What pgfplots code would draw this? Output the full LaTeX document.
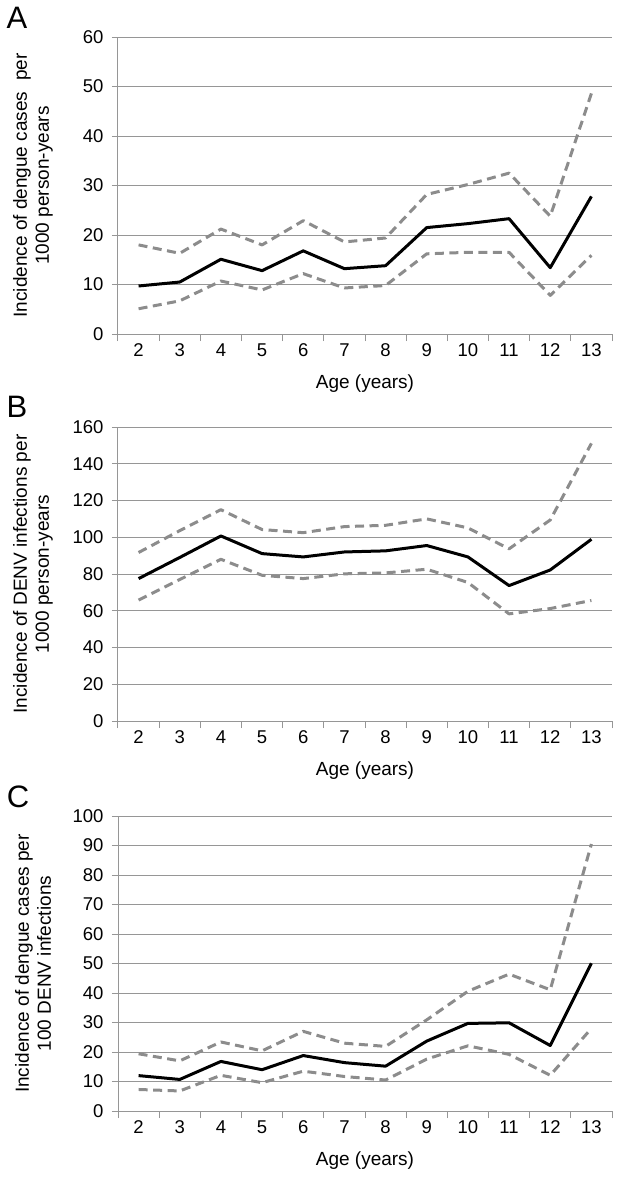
\documentclass[border=0pt]{standalone}
\usepackage{fontspec}
\setmainfont{Liberation Sans}
\usepackage{pgfplots}
\pgfplotsset{compat=1.18}
\usepackage{pgfplotstable}
\definecolor{gridgray}{RGB}{150,150,150}
\definecolor{dashgray}{RGB}{140,140,140}

\pgfplotstableread{
age est lo hi
2  9.7  5.1 18.0
3  10.5 6.7 16.3
4  15.1 10.7 21.2
5  12.8 8.9 18.0
6  16.8 12.2 22.9
7  13.2 9.3 18.6
8  13.8 9.8 19.4
9  21.5 16.2 28.2
10 22.3 16.5 30.2
11 23.3 16.5 32.5
12 13.4 7.8 23.8
13 27.8 15.9 48.6
}\tabA

\pgfplotstableread{
age est lo hi
2  77.5 65.8 91.7
3  89.0 77.0 103.6
4  100.7 88.0 115.0
5  91.1 79.3 104.2
6  89.3 77.5 102.5
7  92.0 80.1 105.8
8  92.6 80.6 106.5
9  95.5 82.6 110.0
10 89.3 75.4 105.1
11 73.7 58.3 93.7
12 82.2 61.2 109.4
13 98.9 65.6 151.1
}\tabB

\pgfplotstableread{
age est lo hi
2  12.0 7.3 19.4
3  10.7 6.8 17.0
4  16.8 12.1 23.4
5  14.0 9.6 20.4
6  18.8 13.5 27.0
7  16.4 11.7 23.0
8  15.2 10.5 21.9
9  23.7 17.6 30.9
10 29.7 22.1 40.6
11 29.9 19.2 46.4
12 22.2 12.1 41.1
13 50.1 28.0 90.5
}\tabC

\pgfplotsset{
  panel/.style={
    scale only axis,
    width=494pt,
    xmin=1.5, xmax=13.5,
    xtick={2,3,4,5,6,7,8,9,10,11,12,13},
    xticklabels={2,3,4,5,6,7,8,9,10,11,12,13},
    minor xtick={1.5,2.5,3.5,4.5,5.5,6.5,7.5,8.5,9.5,10.5,11.5,12.5,13.5},
    axis x line*=bottom,
    axis y line*=left,
    axis line style={-, draw=gridgray, line width=1pt},
    ymajorgrids,
    grid style={draw=gridgray, line width=1pt},
    tick align=outside,
    major tick length=6pt,
    minor tick length=7pt,
    major x tick style={draw=none},
    minor x tick style={draw=gridgray, line width=1pt},
    ytick style={draw=gridgray, line width=1pt},
    tick label style={font=\fontsize{18.5}{21}\selectfont},
    xticklabel style={text height=13pt, text depth=0pt},
    label style={font=\fontsize{19}{22}\selectfont},
    /pgf/number format/assume math mode=true,
    xlabel={Age (years)},
    xlabel style={at={(axis description cs:0.5,0)}, anchor=center, yshift=-50pt},
    ylabel style={at={(axis description cs:-0.172,0.5)}, anchor=center, rotate=0, align=center},
    yticklabel style={xshift=-5pt},
    clip=false,
  },
  est/.style={black, line width=3pt, line join=round},
  ci/.style={dashgray, line width=3pt, dash pattern=on 9pt off 5.5pt, line join=round},
}

\begin{document}
\begin{tikzpicture}[x=1pt,y=1pt]
\useasboundingbox (0,0) rectangle (626,-1179);

% Panel A
\node[font=\fontsize{31}{33}\selectfont] at (17,-18) {A};
\begin{axis}[panel, at={(118pt,-334pt)}, anchor=south west, height=297pt,
  ymin=0, ymax=60, ytick={0,10,...,60},
  ylabel={Incidence of dengue cases\ \ per\\1000 person-years}]
\addplot[ci] table[x=age,y=hi] {\tabA};
\addplot[ci] table[x=age,y=lo] {\tabA};
\addplot[est] table[x=age,y=est] {\tabA};
\end{axis}

% Panel B
\node[font=\fontsize{31}{33}\selectfont] at (17,-407) {B};
\begin{axis}[panel, at={(118pt,-721pt)}, anchor=south west, height=294pt,
  ymin=0, ymax=160, ytick={0,20,...,160},
  ylabel={Incidence of DENV infections per\\1000 person-years}]
\addplot[ci] table[x=age,y=hi] {\tabB};
\addplot[ci] table[x=age,y=lo] {\tabB};
\addplot[est] table[x=age,y=est] {\tabB};
\end{axis}

% Panel C
\node[font=\fontsize{31}{33}\selectfont] at (18,-797) {C};
\begin{axis}[panel, at={(118pt,-1111pt)}, anchor=south west, height=295pt,
  ymin=0, ymax=100, ytick={0,10,...,100},
  ylabel={Incidence of dengue cases per\\100 DENV infections}]
\addplot[ci] table[x=age,y=hi] {\tabC};
\addplot[ci] table[x=age,y=lo] {\tabC};
\addplot[est] table[x=age,y=est] {\tabC};
\end{axis}
\end{tikzpicture}
\end{document}
